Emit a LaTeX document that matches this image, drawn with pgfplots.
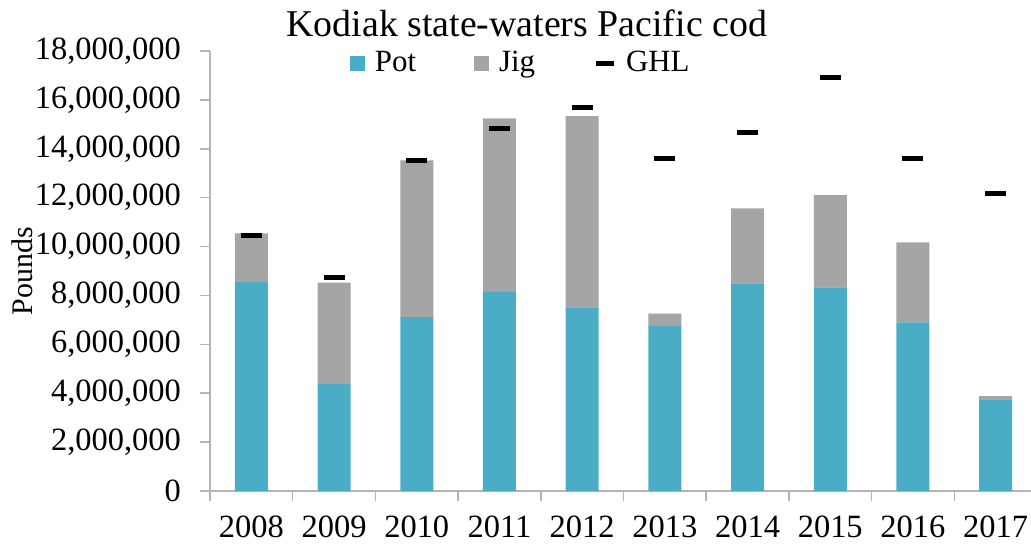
\documentclass[border=0pt]{standalone}
\usepackage{fontspec}
\setmainfont{Liberation Serif}
\usepackage{pgfplots}
\usepackage{pgfplotstable}
\pgfplotsset{compat=1.18}

\definecolor{potc}{HTML}{4BACC6}
\definecolor{jigc}{HTML}{A5A5A5}
\definecolor{axc}{HTML}{B4B4B4}

% pounds by year
\pgfplotstableread{
x pot jig ghl
0 8540000 2000000 10440000
1 4370000 4150000 8750000
2 7110000 6420000 13500000
3 8150000 7090000 14840000
4 7510000 7830000 15700000
5 6750000 510000 13590000
6 8490000 3070000 14650000
7 8330000 3770000 16930000
8 6900000 3270000 13590000
9 3720000 160000 12180000
}\cod

\begin{document}
\begin{tikzpicture}
\pgfplotsset{base/.style={
  scale only axis, width=413.5bp, height=220bp,
  xmin=-0.5, xmax=9.5, ymin=0, ymax=18000000,
}}
\begin{axis}[base, name=main,
  ybar stacked, bar width=16.5bp,
  axis x line*=bottom, axis y line*=left,
  axis line style={axc, line width=0.8bp},
  tick align=outside, major tick length=5bp,
  tick style={axc, line width=0.8bp},
  xtick={-0.5,0.5,...,9.5}, x tick label as interval,
  xticklabels={2008,2009,2010,2011,2012,2013,2014,2015,2016,2017},
  xticklabel style={yshift=-4bp},
  ytick={0,2000000,...,18000000}, scaled y ticks=false,
  /pgf/number format/assume math mode=true,
  yticklabel style={xshift=-6bp, /pgf/number format/fixed, /pgf/number format/1000 sep={,}},
  tick label style={font=\fontsize{16.3}{16}\selectfont},
  ylabel={Pounds},
  ylabel style={at={(axis description cs:-0.227,0.5)}, anchor=center, font=\fontsize{15}{15}\selectfont},
  title={Kodiak state-waters Pacific cod},
  title style={at={(0.383,1)}, anchor=center, yshift=8bp, font=\fontsize{19}{19}\selectfont},
  legend columns=3,
  legend style={at={(0.377,1)}, anchor=north, yshift=4bp, draw=none, fill=none,
    font=\fontsize{15.5}{15}\selectfont,
    /tikz/every odd column/.append style={column sep=3bp},
    /tikz/every even column/.append style={column sep=27bp}},
]
\addplot[fill=potc, draw=none,
  legend image code/.code={\fill[potc] (0bp,-3.75bp) rectangle (7.5bp,3.75bp);}]
  table[x=x, y=pot] {\cod};
\addlegendentry{Pot}
\addplot[fill=jigc, draw=none,
  legend image code/.code={\fill[jigc] (0bp,-3.75bp) rectangle (7.5bp,3.75bp);}]
  table[x=x, y=jig] {\cod};
\addlegendentry{Jig}
\addlegendimage{legend image code/.code={\draw[black, line width=2.5bp] (0bp,0bp) -- (9bp,0bp);}}
\addlegendentry{GHL}
\end{axis}

% GHL dashes on an overlaid axis, so that they are not stacked
\begin{axis}[base, hide axis]
\addplot[only marks, mark=-, mark size=5.25bp, mark options={black, line width=2.5bp}]
  table[x=x, y=ghl] {\cod};
\end{axis}

\pgfresetboundingbox
\useasboundingbox ([xshift=-105bp, yshift=-28.5bp]main.south west)
  rectangle ([xshift=-3bp, yshift=25.5bp]main.north east);
\end{tikzpicture}
\end{document}
